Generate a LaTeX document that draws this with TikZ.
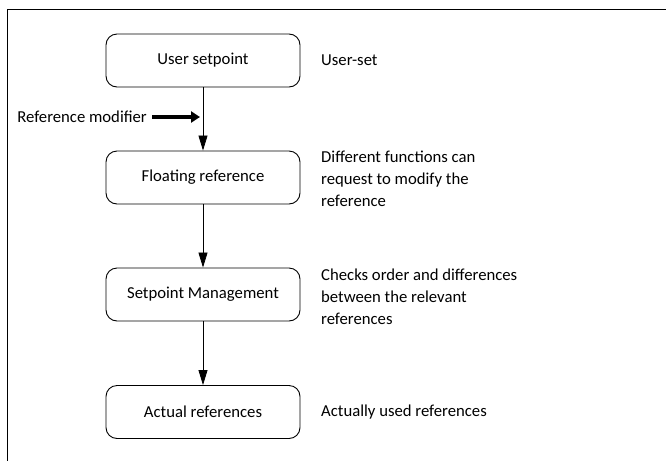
\documentclass[tikz,border=0pt]{standalone}
\usepackage{fontspec}
\setmainfont{Carlito}
\usetikzlibrary{arrows.meta}
\begin{document}
\begin{tikzpicture}[x=1pt,y=-1pt,
  box/.style={draw,line width=0.9pt,rounded corners=11pt,minimum width=194pt,minimum height=53pt,font=\fontsize{16.7}{20}\selectfont,inner sep=0pt},
  note/.style={anchor=west,align=left,font=\fontsize{16.7}{22}\selectfont,inner sep=0pt},
  flow/.style={line width=0.8pt,-{Triangle[length=15pt,width=9pt]}},
  thick arrow/.style={line width=3.5pt,-{Triangle[length=9pt,width=11pt]}}]
\useasboundingbox (0,0) rectangle (666,461);
\draw[line width=1pt] (666,9) -- (7,9) -- (7,461);
\node[box] (us) at (203,60.5) {User setpoint};
\node[box] (fr) at (203,177.5) {Floating reference};
\node[box] (sm) at (203,294.5) {Setpoint Management};
\node[box] (ar) at (203,412) {Actual references};
\draw[flow] (us) -- (fr);
\draw[flow] (fr) -- (sm);
\draw[flow] (sm) -- (ar);
\node[note,anchor=east] (rm) at (147,117) {Reference modifier};
\coordinate (rmtip) at (200,117);
\draw[thick arrow] (rm.east) ++(5,0) coordinate (rmstart) (rmstart) -- (rmtip);
\node[note] (n1) at (321,60.5) {User-set};
\node[note] (n2) at (321,179) {Different functions can\\request to modify the\\reference};
\node[note] (n3) at (321,297) {Checks order and differences\\between the relevant\\references};
\node[note] (n4) at (321,412) {Actually used references};
\end{tikzpicture}
\end{document}
